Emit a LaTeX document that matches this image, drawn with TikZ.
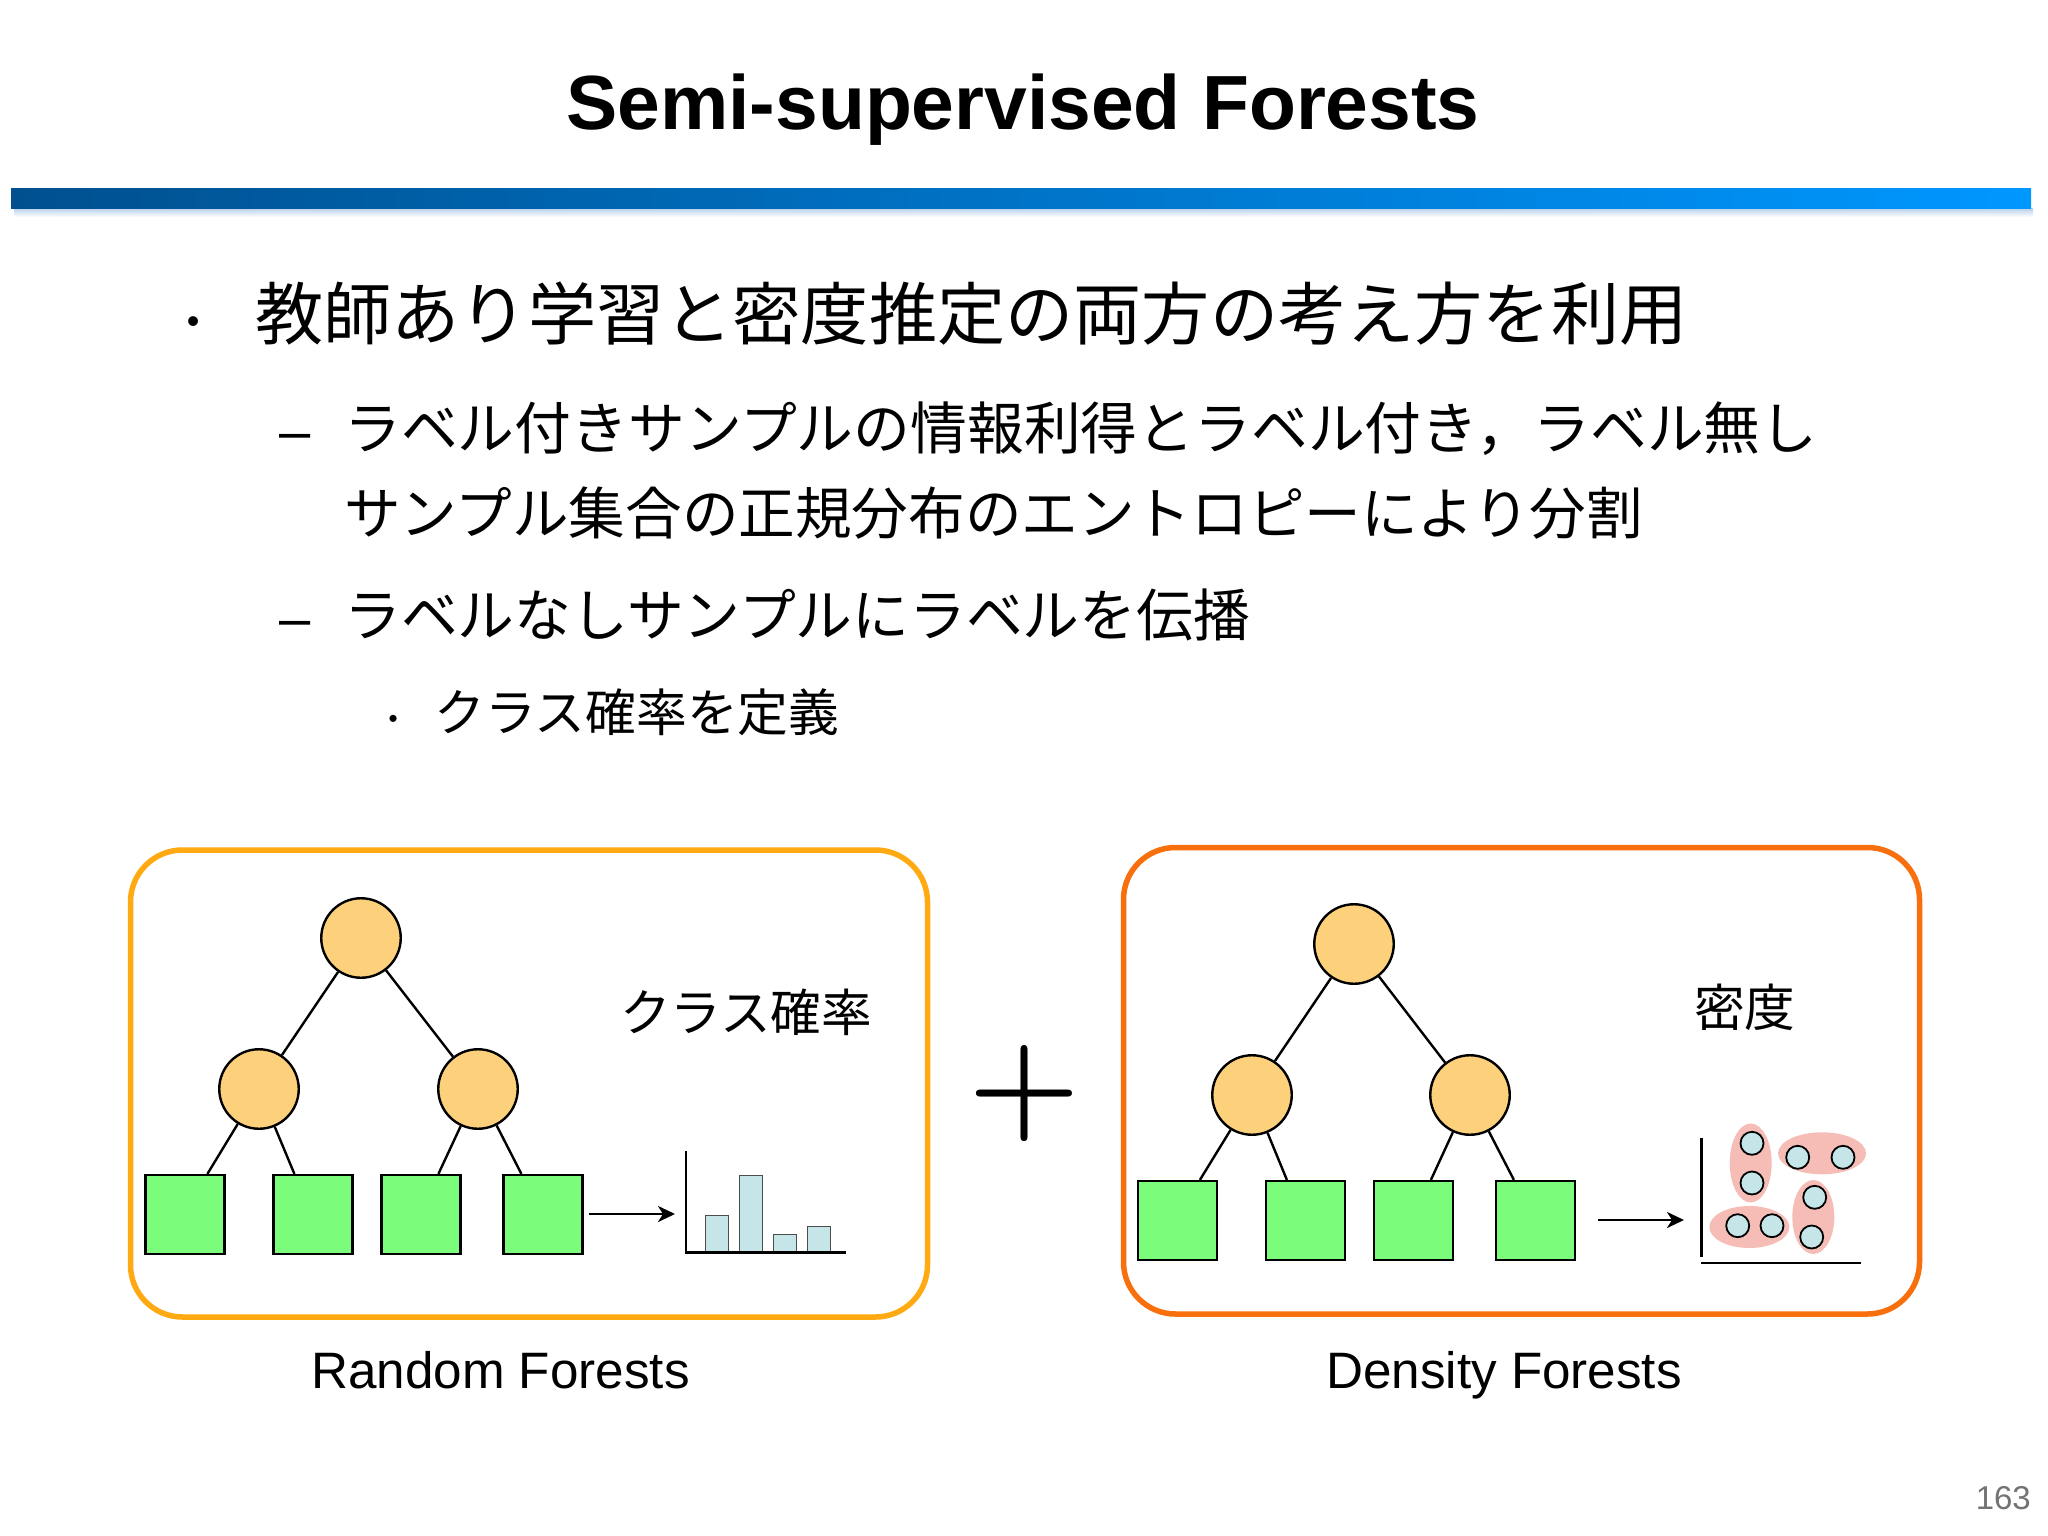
\documentclass[tikz,border=0pt]{standalone}
\usepackage{fontspec}
\setmainfont{Liberation Sans}
\newfontfamily\plusfont{Latin Modern Roman}
\newfontfamily\jp{Noto Sans CJK JP}
\usetikzlibrary{arrows.meta,calc,shapes.geometric}
\definecolor{barL}{HTML}{00508F}
\definecolor{barR}{HTML}{0097FF}
\definecolor{boxA}{HTML}{FFAA12}
\definecolor{boxB}{HTML}{F8700E}
\definecolor{inode}{HTML}{FDD17B}
\definecolor{leafc}{HTML}{7BFC7B}
\definecolor{barc}{HTML}{C5E5E8}
\definecolor{blob}{HTML}{F6BDB6}
\definecolor{shadowc}{HTML}{B5CFEA}
\tikzset{
 x=1pt,y=-1pt,
 panel/.style={draw,line width=5.5pt,rounded corners=52pt,inner sep=0,fill=white},
 inner/.style={circle,draw=black,line width=2.4pt,fill=inode,minimum size=79.5pt,inner sep=0},
 leaf/.style={rectangle,draw=black,line width=2.2pt,fill=leafc,minimum size=79pt,inner sep=0},
 edge/.style={draw=black,line width=2.4pt},
 arr/.style={draw=black,line width=2.6pt,-{Stealth[length=17pt,width=16pt,inset=5pt]}},
 axis/.style={draw=black,line width=2.6pt},
 barb/.style={draw=black!70,line width=1pt,fill=barc},
 cloud/.style={ellipse,fill=blob,inner sep=0},
 dot/.style={circle,draw=black,line width=1.8pt,fill=barc,minimum size=23pt,inner sep=0},
 txt/.style={inner sep=0,anchor=base west,text=black},
}
\newcommand{\jsz}[1]{\jp\fontsize{#1}{#1}\selectfont}
\begin{document}
\begin{tikzpicture}
\useasboundingbox (0,0) rectangle (2048,1536);
\fill[white] (0,0) rectangle (2048,1536);
% title
\node[inner sep=0,anchor=base] (title) at (1023,129.5) {\bfseries\fontsize{76.8}{76.8}\selectfont Semi-supervised Forests};
% rule
\shade[top color=shadowc,bottom color=white] (14,208) rectangle (2033,217);
\shade[left color=barL,right color=barR] (11,188) rectangle (2031,208);
% body
\node[txt] (b1m) at (186.7,333) {\fontsize{36}{36}\selectfont •};
\node[txt] (b1) at (255,339) {\jsz{68.2}教師あり学習と密度推定の両方の考え方を利用};
\node[txt] (b2m) at (279,450) {\fontsize{56}{56}\selectfont –};
\node[txt] (b2) at (344,449) {\jsz{56.8}ラベル付きサンプルの情報利得とラベル付き，ラベル無し};
\node[txt] (b3) at (344,534) {\jsz{56.6}サンプル集合の正規分布のエントロピーにより分割};
\node[txt] (b4m) at (279,637) {\fontsize{56}{56}\selectfont –};
\node[txt] (b4) at (344,636) {\jsz{56.8}ラベルなしサンプルにラベルを伝播};
\node[txt] (b5m) at (388.5,727) {\fontsize{26}{26}\selectfont •};
\node[txt] (b5) at (434,731) {\jsz{50.8}クラス確率を定義};
% left panel
\node[panel,draw=boxA,minimum width=797pt,minimum height=467pt] (pa) at (529,1083.5) {};
\node[inner] (ar) at (361,938) {};
\node[inner] (al) at (259,1089) {};
\node[inner] (am) at (478,1089) {};
\node[leaf] (a1) at (185,1214.5) {};
\node[leaf] (a2) at (313,1214.5) {};
\node[leaf] (a3) at (421,1214.5) {};
\node[leaf] (a4) at (543,1214.5) {};
\draw[edge] (ar) -- (al);
\draw[edge] (ar) -- (am);
\draw[edge] (al) -- ($(a1.north west)+(63,0)$);
\draw[edge] (al) -- ($(a2.north west)+(22,0)$);
\draw[edge] (am) -- ($(a3.north west)+(58,0)$);
\draw[edge] (am) -- ($(a4.north west)+(19,0)$);
\coordinate (aas) at (589,1214);
\coordinate (aae) at (675,1214);
\draw[arr] (aas) -- (aae);
\node[txt] (alab) at (620,1031) {\jsz{50.6}クラス確率};
\coordinate (ao) at (686,1252.5);
\draw[barb] (705,1252) rectangle (728,1215);
\draw[barb] (739,1252) rectangle (762,1175);
\draw[barb] (773,1252) rectangle (796,1234);
\draw[barb] (807,1252) rectangle (830,1226);
\draw[axis] (686,1151) -- (ao) -- (846,1252.5);
\node[inner sep=0,anchor=base] (acap) at (500.5,1388) {\fontsize{51.2}{51.2}\selectfont Random Forests};
% plus
\node[inner sep=0] (plus) at (1024.5,1094) {\plusfont\bfseries\fontsize{128}{128}\selectfont +};
% right panel
\node[panel,draw=boxB,minimum width=796pt,minimum height=466.5pt] (pb) at (1521.5,1080.75) {};
\node[inner] (br) at (1354,944) {};
\node[inner] (bl) at (1252,1095) {};
\node[inner] (bm) at (1470,1095) {};
\node[leaf] (c1) at (1177.5,1220.5) {};
\node[leaf] (c2) at (1305.5,1220.5) {};
\node[leaf] (c3) at (1413.5,1220.5) {};
\node[leaf] (c4) at (1535.5,1220.5) {};
\draw[edge] (br) -- (bl);
\draw[edge] (br) -- (bm);
\draw[edge] (bl) -- ($(c1.north west)+(63,0)$);
\draw[edge] (bl) -- ($(c2.north west)+(22,0)$);
\draw[edge] (bm) -- ($(c3.north west)+(58,0)$);
\draw[edge] (bm) -- ($(c4.north west)+(19,0)$);
\coordinate (bas) at (1598,1220);
\coordinate (bae) at (1684,1220);
\draw[arr] (bas) -- (bae);
\node[txt] (blab) at (1694,1026) {\jsz{50.6}密度};
\coordinate (byt) at (1701.5,1138);
\coordinate (byb) at (1701.5,1257);
\coordinate (bxl) at (1701,1263);
\coordinate (bxr) at (1861,1263);
\draw[axis] (byt) -- (byb);
\draw[axis] (bxl) -- (bxr);
\node[cloud,minimum width=42pt,minimum height=79pt] (e1) at (1750.7,1163) {};
\node[cloud,minimum width=88pt,minimum height=42pt] (e2) at (1822,1153.3) {};
\node[cloud,minimum width=80pt,minimum height=42pt] (e3) at (1749.3,1227) {};
\node[cloud,minimum width=42pt,minimum height=74pt] (e4) at (1813.3,1217) {};
\node[dot] (d1) at (1752,1143.3) {};
\node[dot] (d2) at (1752,1183) {};
\node[dot] (d3) at (1797.7,1157.3) {};
\node[dot] (d4) at (1843,1157.3) {};
\node[dot] (d5) at (1737.7,1225.7) {};
\node[dot] (d6) at (1772,1225.7) {};
\node[dot] (d7) at (1814.7,1197.3) {};
\node[dot] (d8) at (1811.7,1237) {};
\node[inner sep=0,anchor=base] (bcap) at (1504,1388) {\fontsize{51.2}{51.2}\selectfont Density Forests};
% page number
\node[inner sep=0,anchor=base east,text=black!55] (pg) at (2031,1509) {\fontsize{33}{33}\selectfont 163};
\end{tikzpicture}
\end{document}
